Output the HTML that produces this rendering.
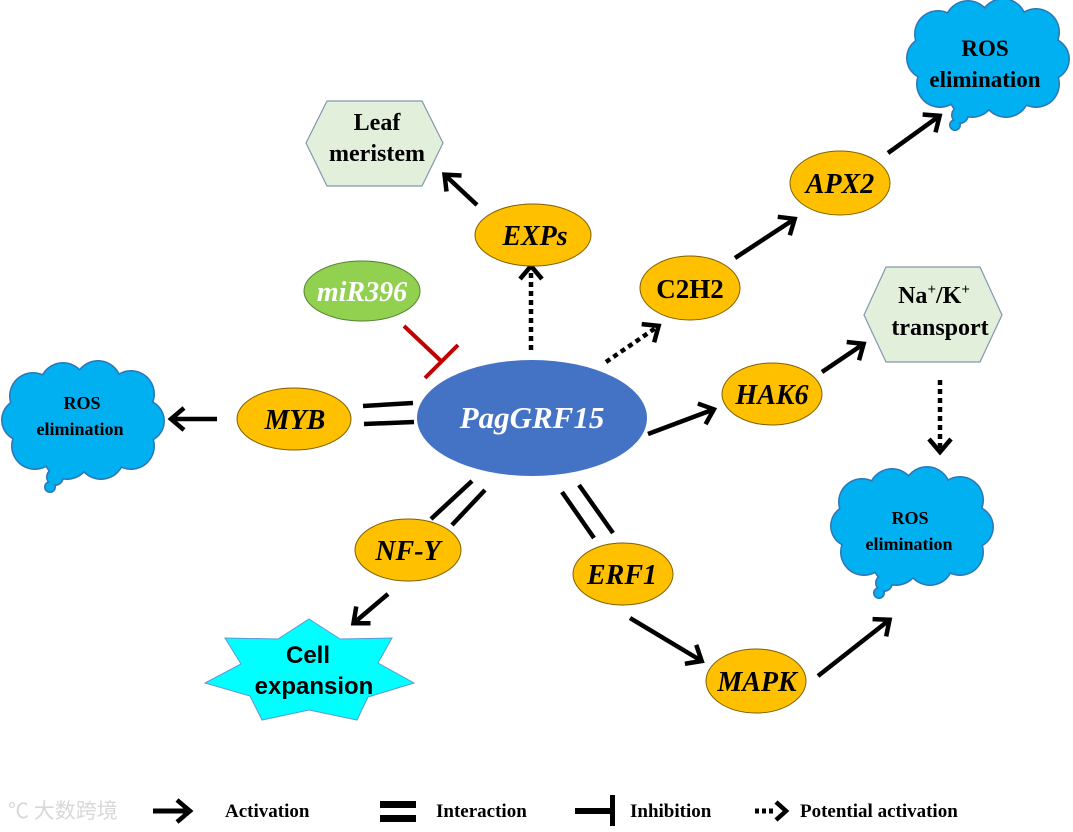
<!DOCTYPE html>
<html><head><meta charset="utf-8"><style>
html,body{margin:0;padding:0;background:#fff;}
svg{display:block;}
text{font-family:"Liberation Serif","Noto Serif CJK SC",serif;font-weight:bold;}
</style></head><body>
<svg width="1073" height="832" viewBox="0 0 1073 832" xmlns="http://www.w3.org/2000/svg">
<defs>
<marker id="ah" markerUnits="userSpaceOnUse" markerWidth="30" markerHeight="30" refX="14" refY="12" orient="auto" viewBox="0 0 30 24">
<path d="M3,1 L16,12 L3,23" fill="none" stroke="#000" stroke-width="4.5"/>
</marker>
<g id="cloud">
<g fill="#2e75b6">
<circle cx="30" cy="32" r="24"/><circle cx="60" cy="22" r="24"/><circle cx="95" cy="20" r="24"/><circle cx="128" cy="30" r="24"/><circle cx="140" cy="57" r="22"/><circle cx="128" cy="82" r="24"/><circle cx="98" cy="92" r="24"/><circle cx="64" cy="92" r="24"/><circle cx="32" cy="82" r="24"/><circle cx="20" cy="56" r="22"/>
<circle cx="52" cy="113" r="9"/><circle cx="47" cy="123" r="6"/>
</g>
<g fill="#00b0f0">
<circle cx="30" cy="32" r="22.5"/><circle cx="60" cy="22" r="22.5"/><circle cx="95" cy="20" r="22.5"/><circle cx="128" cy="30" r="22.5"/><circle cx="140" cy="57" r="20.5"/><circle cx="128" cy="82" r="22.5"/><circle cx="98" cy="92" r="22.5"/><circle cx="64" cy="92" r="22.5"/><circle cx="32" cy="82" r="22.5"/><circle cx="20" cy="56" r="20.5"/>
<ellipse cx="80" cy="57" rx="60" ry="40"/>
<circle cx="52" cy="113" r="7.5"/><circle cx="47" cy="123" r="4.5"/>
</g>
</g>
</defs>

<use href="#cloud" x="908" y="2"/>
<text x="985" y="56" font-size="23" text-anchor="middle">ROS</text>
<text x="985" y="87" font-size="23" text-anchor="middle">elimination</text>

<use href="#cloud" x="3" y="364"/>
<text x="82" y="409" font-size="18" text-anchor="middle">ROS</text>
<text x="80" y="435" font-size="18" text-anchor="middle">elimination</text>

<use href="#cloud" x="832" y="470"/>
<text x="910" y="524" font-size="18" text-anchor="middle">ROS</text>
<text x="909" y="550" font-size="18" text-anchor="middle">elimination</text>

<polygon points="306,143 327,101 422,101 443,143 422,186 327,186" fill="#e2efda" stroke="#8497b0" stroke-width="1.2"/>
<text x="377" y="130" font-size="24" text-anchor="middle">Leaf</text>
<text x="377" y="161" font-size="24" text-anchor="middle">meristem</text>

<polygon points="864,315 886,267 980,267 1002,315 980,362 886,362" fill="#e2efda" stroke="#8497b0" stroke-width="1.2"/>
<text x="934" y="303" font-size="24" text-anchor="middle">Na<tspan font-size="15" dy="-9">+</tspan><tspan dy="9">/K</tspan><tspan font-size="15" dy="-9">+</tspan></text>
<text x="940" y="335" font-size="24" text-anchor="middle">transport</text>

<polygon points="309,619 340,639 392,638 378,663 414,683 368,697 357,720 309,710 262,720 250,696 205,683 241,664 225,638 278,639" fill="#00ffff" stroke="#5b9bd5" stroke-width="1"/>
<text x="308" y="663" font-size="24" text-anchor="middle" style="font-family:'Liberation Sans',sans-serif">Cell</text>
<text x="314" y="694" font-size="24" text-anchor="middle" style="font-family:'Liberation Sans',sans-serif">expansion</text>

<g stroke="#000" stroke-width="4.5" fill="none">
<line x1="477" y1="205" x2="446" y2="176" marker-end="url(#ah)"/>
<line x1="735" y1="258" x2="793" y2="220" marker-end="url(#ah)"/>
<line x1="888" y1="153" x2="938" y2="117" marker-end="url(#ah)"/>
<line x1="822" y1="372" x2="862" y2="345" marker-end="url(#ah)"/>
<line x1="217" y1="419" x2="173" y2="419" marker-end="url(#ah)"/>
<line x1="648" y1="434" x2="712" y2="410" marker-end="url(#ah)"/>
<line x1="388" y1="594" x2="355" y2="622" marker-end="url(#ah)"/>
<line x1="630" y1="618" x2="700" y2="660" marker-end="url(#ah)"/>
<line x1="818" y1="676" x2="888" y2="621" marker-end="url(#ah)"/>
<line x1="531" y1="350" x2="531" y2="268" stroke-dasharray="5,4" marker-end="url(#ah)"/>
<line x1="606" y1="362" x2="657" y2="327" stroke-dasharray="5,4" marker-end="url(#ah)"/>
<line x1="940" y1="380" x2="940" y2="450" stroke-dasharray="5,4" marker-end="url(#ah)"/>
<line x1="363" y1="406" x2="413" y2="403"/>
<line x1="364" y1="424" x2="414" y2="422"/>
<line x1="431" y1="519" x2="472" y2="481"/>
<line x1="452" y1="525" x2="485" y2="490"/>
<line x1="562" y1="492" x2="594" y2="538"/>
<line x1="579" y1="485" x2="613" y2="533"/>
</g>
<g stroke="#c00000" stroke-width="4" fill="none">
<line x1="404" y1="326" x2="441" y2="361"/>
<line x1="425" y1="378" x2="458" y2="345"/>
</g>

<g stroke="#7f6000" stroke-width="1" fill="#ffc000">
<ellipse cx="533" cy="235" rx="58" ry="31"/>
<ellipse cx="840" cy="183" rx="50" ry="32"/>
<ellipse cx="690" cy="288" rx="50" ry="32"/>
<ellipse cx="772" cy="394" rx="50" ry="31"/>
<ellipse cx="294" cy="419" rx="57" ry="31"/>
<ellipse cx="408" cy="550" rx="53" ry="31"/>
<ellipse cx="623" cy="574" rx="50" ry="31"/>
<ellipse cx="756" cy="681" rx="50" ry="32"/>
</g>
<ellipse cx="362" cy="291" rx="58" ry="30" fill="#92d050" stroke="#548235" stroke-width="1"/>
<ellipse cx="532" cy="418" rx="115" ry="58" fill="#4472c4"/>

<g font-style="italic" text-anchor="middle" font-size="28">
<text x="535" y="245">EXPs</text>
<text x="840" y="193">APX2</text>
<text x="772" y="404">HAK6</text>
<text x="295" y="429">MYB</text>
<text x="408" y="560">NF-Y</text>
<text x="622" y="584">ERF1</text>
<text x="757" y="691">MAPK</text>
<text x="362" y="301" fill="#fff">miR396</text>
<text x="532" y="428" fill="#fff" font-size="31">PagGRF15</text>
</g>
<text x="690" y="298" font-size="27" text-anchor="middle">C2H2</text>

<text x="8" y="818" font-size="21" fill="#d8d8d8" style="font-family:'Noto Sans CJK SC',sans-serif;font-weight:normal">℃ 大数跨境</text>
<line x1="153" y1="811" x2="188" y2="811" stroke="#000" stroke-width="5" marker-end="url(#ah)"/>
<text x="225" y="817" font-size="19">Activation</text>
<rect x="380" y="801" width="36" height="7" fill="#000"/>
<rect x="380" y="815" width="36" height="7" fill="#000"/>
<text x="436" y="817" font-size="19">Interaction</text>
<rect x="575" y="808" width="38" height="6" fill="#000"/>
<rect x="610" y="795" width="5" height="31" fill="#000"/>
<text x="630" y="817" font-size="19">Inhibition</text>
<line x1="755" y1="811" x2="773" y2="811" stroke="#000" stroke-width="5" stroke-dasharray="4,3"/>
<path d="M776,802 L786,811 L776,820" fill="none" stroke="#000" stroke-width="4.5"/>
<text x="800" y="817" font-size="19">Potential activation</text>
</svg>
</body></html>
